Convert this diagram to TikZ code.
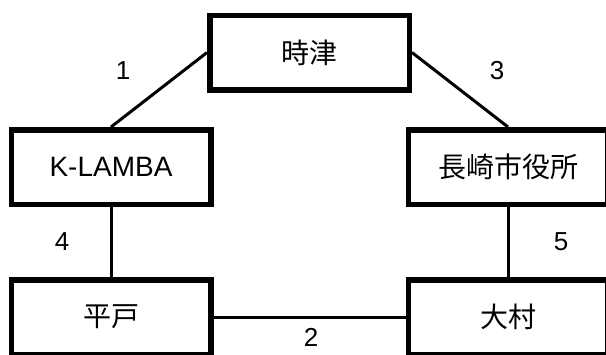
\documentclass[tikz,border=0pt]{standalone}
\usepackage{fontspec}
\setmainfont{Liberation Sans}
\newfontfamily\jp{Noto Sans CJK JP}
\begin{document}
\begin{tikzpicture}[x=1pt,y=-1pt,
  box/.style={draw=black, line width=5.5pt, minimum width=199.5pt, minimum height=74.5pt, inner sep=0pt, font=\fontsize{28}{33}\selectfont},
  link/.style={draw=black, line width=3pt},
  lab/.style={font=\fontsize{26}{31}\selectfont, inner sep=0pt}]
\useasboundingbox (0,0) rectangle (606,354);
\node[box] (tok) at (309.5,52.5) {\jp 時津};
\node[box] (kl) at (111,167) {K-LAMBA};
\node[box] (nag) at (508,167) {\jp 長崎市役所};
\node[box] (hir) at (111,317) {\jp 平戸};
\node[box] (omu) at (508,317) {\jp 大村};
\draw[link] (tok.west) -- (kl.north);
\draw[link] (tok.east) -- (nag.north);
\draw[link] (kl.south) -- (hir.north);
\draw[link] (nag.south) -- (omu.north);
\draw[link] (hir.east) -- (omu.west);
\node[lab] (l1) at (123,71) {1};
\node[lab] (l3) at (497,71) {3};
\node[lab] (l4) at (62,242) {4};
\node[lab] (l5) at (561,242) {5};
\node[lab] (l2) at (311,337) {2};
\end{tikzpicture}
\end{document}
